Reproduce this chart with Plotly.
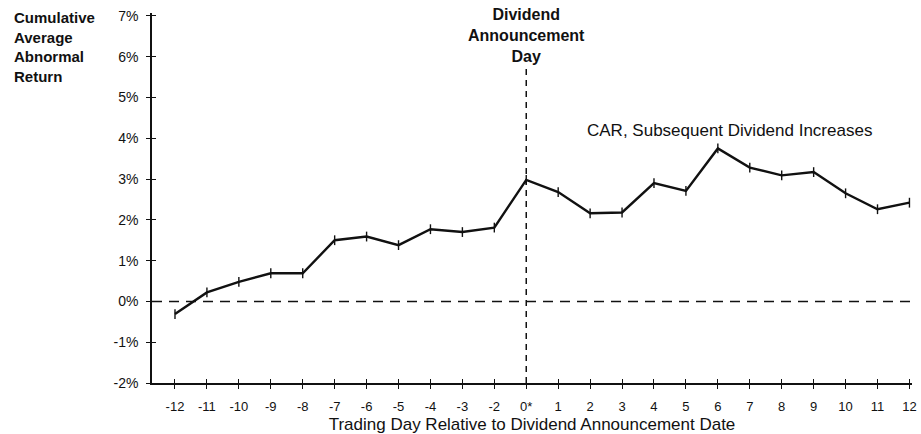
import plotly.graph_objects as go

# Trading days relative to the announcement (no day -1 on this axis)
day_labels = ["-12", "-11", "-10", "-9", "-8", "-7", "-6", "-5", "-4", "-3", "-2",
              "0*", "1", "2", "3", "4", "5", "6", "7", "8", "9", "10", "11", "12"]

# Cumulative average abnormal return, percent
car_pct = [-0.31, 0.22, 0.48, 0.69, 0.69, 1.50, 1.59, 1.38, 1.77, 1.70, 1.81,
           2.98, 2.68, 2.16, 2.18, 2.90, 2.71, 3.75, 3.28, 3.09, 3.17, 2.65, 2.26, 2.42]

y_tick_values = [-2, -1, 0, 1, 2, 3, 4, 5, 6, 7]
y_tick_labels = ["-2%", "-1%", "0%", "1%", "2%", "3%", "4%", "5%", "6%", "7%"]

FONT = "Liberation Sans, Arial, Helvetica, sans-serif"
INK = "#111111"
X_RANGE = [-0.72, 23.08]
Y_RANGE = [-2, 7.07]
event_idx = day_labels.index("0*")

fig = go.Figure()

fig.add_trace(go.Scatter(
    x=day_labels, y=car_pct, mode="lines+markers",
    line=dict(color=INK, width=2.4),
    marker=dict(symbol="line-ns", size=7, color=INK, line=dict(width=1.4, color=INK)),
    showlegend=False, hoverinfo="skip",
))

# Twin axes carry the inner half of the cross-shaped tick marks
fig.add_trace(go.Scatter(
    x=day_labels, y=car_pct, xaxis="x2", yaxis="y2", mode="lines",
    line=dict(color="rgba(0,0,0,0)", width=0),
    showlegend=False, hoverinfo="skip",
))

# Zero reference line
fig.add_shape(type="line", xref="paper", yref="y", x0=0, x1=1, y0=0, y1=0,
              line=dict(color=INK, width=1.5, dash="10px,7px"))
# Announcement day marker
fig.add_shape(type="line", xref="x", yref="y", x0=event_idx, x1=event_idx, y0=-2, y1=5.75,
              line=dict(color=INK, width=1.5, dash="6px,5px"))

fig.add_annotation(
    text="Cumulative<br>Average<br>Abnormal<br>Return",
    xref="paper", yref="paper", x=(12 - 152) / 760, y=(383 - 7) / 370,
    xanchor="left", yanchor="top", align="left", showarrow=False,
    font=dict(family=FONT, size=15, color=INK, weight="bold"),
)
fig.add_annotation(
    text="Dividend<br>Announcement<br>Day",
    xref="x", yref="paper", x=event_idx, y=(383 - 4) / 370,
    xanchor="center", yanchor="top", align="center", showarrow=False,
    font=dict(family=FONT, size=16, color=INK, weight="bold"),
)
fig.add_annotation(
    text="CAR, Subsequent Dividend Increases",
    xref="x", yref="y", x=17.38, y=4.19,
    xanchor="center", yanchor="middle", showarrow=False,
    font=dict(family=FONT, size=17, color=INK),
)

fig.update_layout(
    width=921, height=434, autosize=False,
    margin=dict(l=152, r=9, t=13, b=51),
    paper_bgcolor="white", plot_bgcolor="white",
    font=dict(family=FONT, color=INK),
    xaxis=dict(
        type="category", range=X_RANGE, showgrid=False, zeroline=False, automargin=False,
        showline=True, linecolor=INK, linewidth=1.6,
        ticks="outside", ticklen=4, tickwidth=1.4, tickcolor=INK,
        tickfont=dict(size=13, color=INK), ticklabelstandoff=7,
        title=dict(text="Trading Day Relative to Dividend Announcement Date",
                   font=dict(size=17, color=INK), standoff=5),
    ),
    yaxis=dict(
        range=Y_RANGE, showgrid=False, zeroline=False, automargin=False,
        showline=True, linecolor=INK, linewidth=1.6,
        tickmode="array", tickvals=y_tick_values, ticktext=y_tick_labels,
        ticks="outside", ticklen=4, tickwidth=1.4, tickcolor=INK,
        tickfont=dict(size=14, color=INK), ticklabelstandoff=5,
    ),
    xaxis2=dict(
        type="category", range=X_RANGE, overlaying="x", anchor="y2", side="bottom",
        automargin=False,
        showgrid=False, zeroline=False, showline=False, showticklabels=False,
        ticks="inside", ticklen=4, tickwidth=1.4, tickcolor=INK,
    ),
    yaxis2=dict(
        range=Y_RANGE, overlaying="y", anchor="x2", side="left", automargin=False,
        showgrid=False, zeroline=False, showline=False, showticklabels=False,
        tickmode="array", tickvals=y_tick_values,
        ticks="inside", ticklen=4, tickwidth=1.4, tickcolor=INK,
    ),
)

fig.write_html("out.html")
